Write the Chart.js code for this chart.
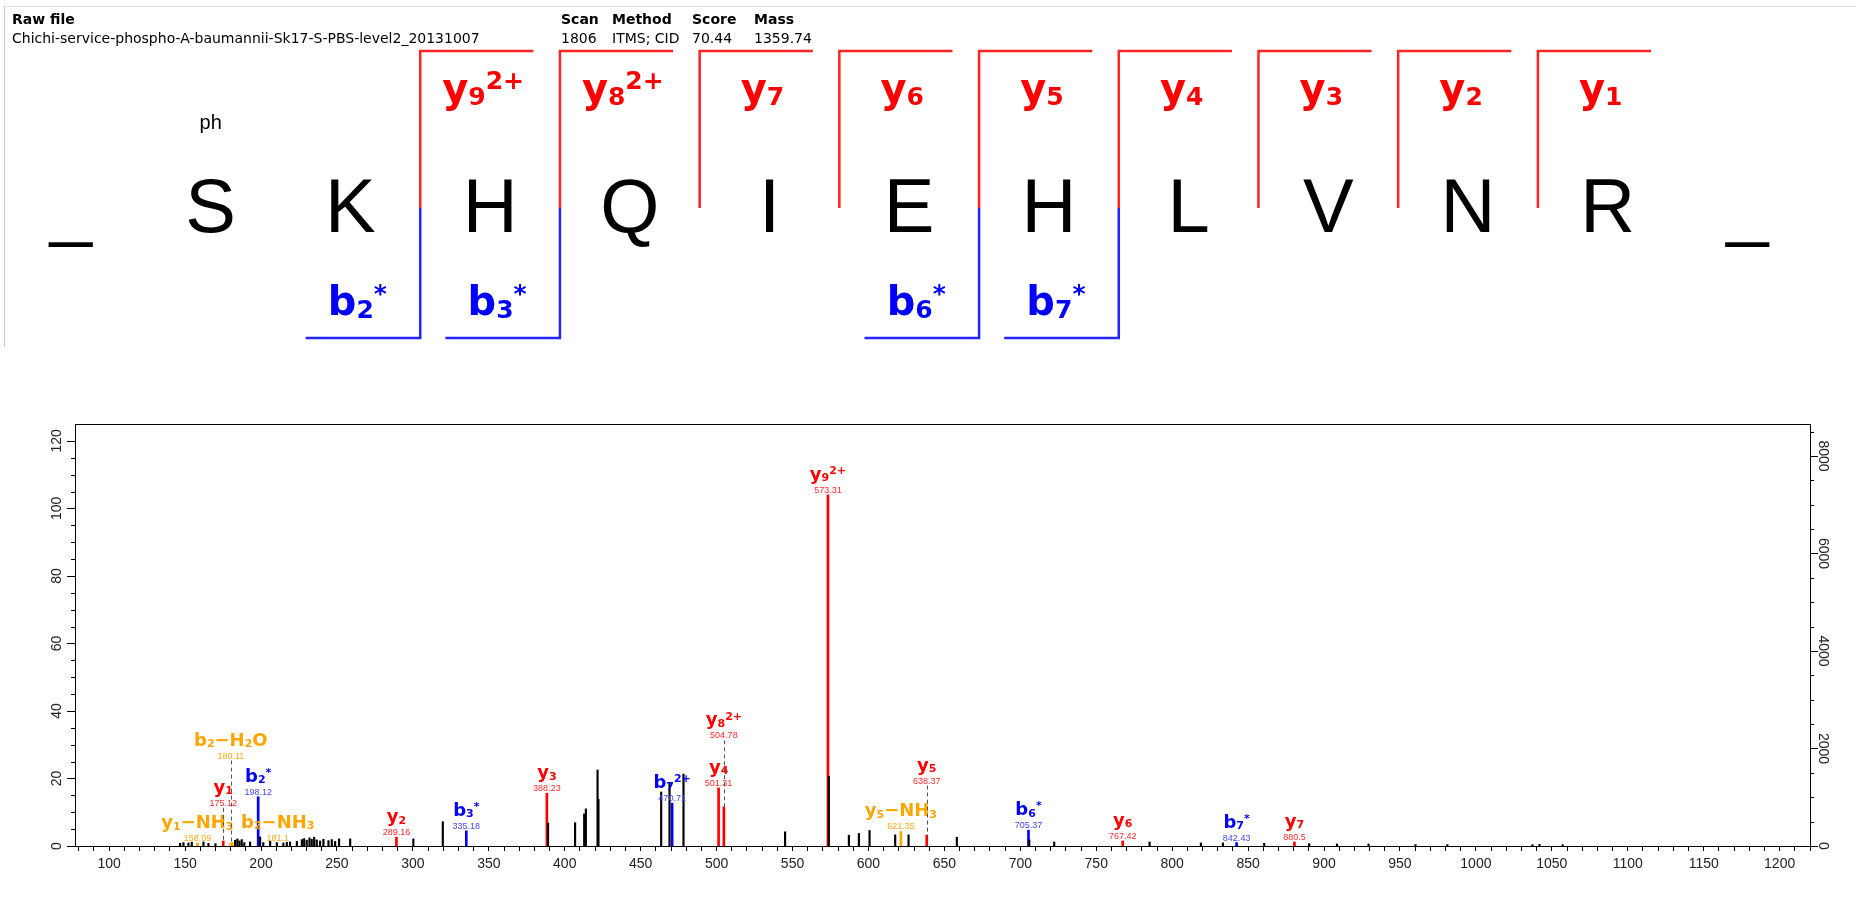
<!DOCTYPE html>
<html>
<head>
<meta charset="utf-8">
<script src="https://cdn.jsdelivr.net/npm/chart.js@4.4.0/dist/chart.umd.min.js"></script>
<style>
body { margin: 0; background: #fff; width: 1856px; height: 897px; overflow: hidden; position: relative; }
#frame { position: absolute; left: 4px; top: 6px; width: 1852px; height: 340px; border-left: 1px solid #c8c8c8; border-top: 1px solid #e2e2e2; }
.hd { position: absolute; font-family: "DejaVu Sans", sans-serif; font-size: 14px; line-height: 16px; color: #000; white-space: nowrap; }
.bold { font-weight: bold; }
#peptide { position: absolute; left: 0; top: 0; }
#spectrum { position: absolute; left: 0; top: 345px; }
</style>
</head>
<body>
<div id="frame"></div>
<canvas id="peptide" width="1856" height="345"></canvas>
<canvas id="spectrum" width="1856" height="552"></canvas>
<div class="hd bold" style="left:12px;top:11px">Raw file</div>
<div class="hd" style="left:12px;top:30px">Chichi-service-phospho-A-baumannii-Sk17-S-PBS-level2_20131007</div>
<div class="hd bold" style="left:561px;top:11px">Scan</div>
<div class="hd" style="left:561px;top:30px">1806</div>
<div class="hd bold" style="left:612px;top:11px">Method</div>
<div class="hd" style="left:612px;top:30px">ITMS; CID</div>
<div class="hd bold" style="left:692px;top:11px">Score</div>
<div class="hd" style="left:692px;top:30px">70.44</div>
<div class="hd bold" style="left:754px;top:11px">Mass</div>
<div class="hd" style="left:754px;top:30px">1359.74</div>
<script>
// peptide sequence (index 0 and 12 are the termini)
var residues = ['_', 'S', 'K', 'H', 'Q', 'I', 'E', 'H', 'L', 'V', 'N', 'R', '_']
var modSite = 1
var modText = 'ph'
var yIonNums = [9, 8, 7, 6, 5, 4, 3, 2, 1]
var yIonCharge = [2, 2, 1, 1, 1, 1, 1, 1, 1]
var bIonNums = [2, 3, 6, 7]

// unassigned peaks (m/z, relative intensity)
var peakMz = [146.7, 148.9, 152.2, 154.4, 162.1, 165.4, 170.0, 182.9, 184.4, 185.8, 187.3, 189.0, 192.8,
    199.4, 201.5, 206.0, 210.4, 214.7, 217.0, 219.1, 223.6, 226.9, 228.4, 230.1, 231.9, 233.4, 235.0,
    236.7, 238.9, 241.1, 244.4, 246.6, 248.8, 251.4, 258.7, 300.3, 319.7, 389.0, 406.8, 412.8, 413.9,
    421.6, 422.2, 463.5, 469.0, 478.2, 545.1, 573.9, 587.1, 593.7, 600.7, 617.6, 626.4, 658.2, 705.9,
    722.3, 785.1, 818.9, 833.4, 860.6, 890.2, 908.5, 929.3, 960.2, 981.2, 1037.2, 1041.9, 1057.1]
var peakInt = [0.8, 1.0, 0.9, 1.1, 1.2, 0.8, 0.7, 1.7, 2.1, 1.5, 1.9, 1.0, 1.2,
    2.7, 1.0, 1.4, 1.0, 0.9, 1.1, 1.2, 1.4, 1.9, 2.2, 1.7, 2.4, 2.0, 2.6,
    1.8, 1.5, 2.0, 1.6, 1.9, 1.4, 2.1, 2.1, 2.1, 7.2, 6.8, 6.9, 9.5, 11.0,
    22.5, 13.8, 16.0, 18.7, 21.3, 4.2, 20.7, 3.2, 3.7, 4.6, 3.3, 3.3, 2.6, 1.8,
    1.2, 1.2, 0.9, 0.9, 0.8, 0.7, 0.6, 0.6, 0.4, 0.4, 0.4, 0.5, 0.4]

// assigned peaks; "_" = subscript char, "^" = superscript rest
var ionLabel = ['y_1\u2212NH_3', 'y_1', 'b_2\u2212H_2O', 'b_2\u2212NH_3', 'b_2^*', 'y_2', 'b_3^*', 'y_3', 'b_7^2+',
    'y_4', 'y_8^2+', 'y_9^2+', 'y_5\u2212NH_3', 'y_5', 'b_6^*', 'y_6', 'b_7^*', 'y_7']
var ionMz = [158.09, 175.12, 180.11, 181.1, 198.12, 289.16, 335.18, 388.23, 470.71,
    501.31, 504.78, 573.31, 621.35, 638.37, 705.37, 767.42, 842.43, 880.5]
var ionInt = [0.8, 1.5, 0.8, 1.0, 14.6, 2.6, 4.5, 15.6, 12.7,
    17.2, 11.6, 104, 4.3, 3.2, 4.7, 1.5, 1.0, 1.2]
var ionKind = ['loss', 'y', 'loss', 'loss', 'b', 'y', 'b', 'y', 'b',
    'y', 'y', 'y', 'loss', 'y', 'b', 'y', 'b', 'y']
// labels lifted above their peak (intensity) or moved aside (m/z); null = on the peak
var ionLabelInt = [null, 11.3, 25.3, null, null, null, null, null, null,
    null, 31.3, null, null, 17.9, null, null, null, null]
var ionLabelMz = [null, null, null, 211, null, null, null, null, null,
    null, null, null, null, null, null, null, null, null]

var leftTicks = [0, 20, 40, 60, 80, 100, 120]
var rightTicks = [0, 2000, 4000, 6000, 8000]

var colours = { y: '#ff0000', b: '#0000ff', loss: '#ffa500' }
var numColours = { y: '#ff2a2a', b: '#4747ff', loss: '#ffab1a' }

// draws ion names like y9 2+ with sub/superscripts, centred on cx
function drawIon(ctx, markup, cx, baseY, size, colour) {
    var runs = []
    var i = 0
    while (i < markup.length) {
        var c = markup[i]
        if (c === '_') { runs.push({ t: markup[i + 1], k: 'sub' }); i += 2 }
        else if (c === '^') { runs.push({ t: markup.slice(i + 1), k: 'sup' }); break }
        else { runs.push({ t: c, k: 'n' }); i++ }
    }
    var small = Math.round(size * 0.62)
    var fontFor = function (k) { return 'bold ' + (k === 'n' ? size : small) + 'px "DejaVu Sans"' }
    var w = 0
    runs.forEach(function (r) { ctx.font = fontFor(r.k); r.w = ctx.measureText(r.t).width; w += r.w })
    var x = cx - w / 2
    ctx.fillStyle = colour
    ctx.textAlign = 'left'
    ctx.textBaseline = 'alphabetic'
    runs.forEach(function (r) {
        ctx.font = fontFor(r.k)
        var dy = r.k === 'sub' ? size * 0.08 : (r.k === 'sup' ? -size * 0.32 : 0)
        ctx.fillText(r.t, x, baseY + dy)
        x += r.w
    })
}

// ---------- sequence panel ----------
// row levels of the panel (y in canvas px, reversed axis)
var ROW = { top: 51, mid: 208, bottom: 338, letter: 232, mod: 129, yLabel: 102, bLabel: 315 }

var redPts = []
yIonNums.forEach(function (n) {
    var v = 11.5 - n
    redPts.push({ x: v, y: ROW.mid }, { x: v, y: ROW.top }, { x: v + 0.81, y: ROW.top }, { x: v, y: null })
})
var bluePts = []
bIonNums.forEach(function (n) {
    var v = n + 0.5
    bluePts.push({ x: v, y: ROW.mid }, { x: v, y: ROW.bottom }, { x: v - 0.82, y: ROW.bottom }, { x: v, y: null })
})

var seqPlugin = {
    id: 'seq',
    afterDatasetsDraw: function (chart) {
        var ctx = chart.ctx, xs = chart.scales.x, ys = chart.scales.y
        ctx.save()
        ctx.fillStyle = '#000'
        ctx.textAlign = 'center'
        ctx.textBaseline = 'alphabetic'
        ctx.font = '76px "Liberation Sans"'
        residues.forEach(function (r, i) {
            ctx.fillText(r, xs.getPixelForValue(i), ys.getPixelForValue(ROW.letter))
        })
        ctx.font = '20px "Liberation Sans"'
        ctx.fillText(modText, xs.getPixelForValue(modSite), ys.getPixelForValue(ROW.mod))
        yIonNums.forEach(function (n, i) {
            var txt = 'y_' + n + (yIonCharge[i] > 1 ? '^' + yIonCharge[i] + '+' : '')
            drawIon(ctx, txt, xs.getPixelForValue(11.5 - n + 0.45), ys.getPixelForValue(ROW.yLabel), 40, '#ff0000')
        })
        bIonNums.forEach(function (n) {
            drawIon(ctx, 'b_' + n + '^*', xs.getPixelForValue(n + 0.5 - 0.45), ys.getPixelForValue(ROW.bLabel), 40, '#0000ff')
        })
        ctx.restore()
    }
}

new Chart(document.getElementById('peptide'), {
    type: 'line',
    data: {
        datasets: [
            { data: redPts, borderColor: '#ff2424', borderWidth: 2.5, pointRadius: 0, spanGaps: false, tension: 0 },
            { data: bluePts, borderColor: '#2424ff', borderWidth: 2.5, pointRadius: 0, spanGaps: false, tension: 0 }
        ]
    },
    options: {
        responsive: false,
        animation: false,
        layout: { padding: 0 },
        plugins: { legend: { display: false }, tooltip: { enabled: false } },
        scales: {
            x: { type: 'linear', display: false, min: -0.508, max: 12.777 },
            y: { type: 'linear', display: false, reverse: true, min: 0, max: 345 }
        }
    },
    plugins: [seqPlugin]
})

// ---------- spectrum ----------
function pts(xs, ys) { return xs.map(function (x, i) { return { x: x, y: ys[i] } }) }

var kindSets = ['y', 'b', 'loss'].map(function (k) {
    var d = []
    ionMz.forEach(function (m, i) { if (ionKind[i] === k) d.push({ x: m, y: ionInt[i] }) })
    return { label: k, data: d, backgroundColor: colours[k], barThickness: 2, grouped: false }
})

var axesPlugin = {
    id: 'axes',
    afterDraw: function (chart) {
        var ctx = chart.ctx, ca = chart.chartArea
        var yl = chart.scales.y, yr = chart.scales.y2
        ctx.save()
        ctx.strokeStyle = '#000'
        ctx.lineWidth = 1
        ctx.strokeRect(Math.round(ca.left) + 0.5, Math.round(ca.top) + 0.5, Math.round(ca.right - ca.left), Math.round(ca.bottom - ca.top))
        ctx.beginPath()
        for (var v = 0; v <= 120; v += 5) {
            var py = Math.round(yl.getPixelForValue(v)) + 0.5
            ctx.moveTo(ca.left, py)
            ctx.lineTo(ca.left - (v % 20 === 0 ? 8 : 4), py)
        }
        for (var w = 0; w <= 8500; w += 500) {
            var qy = Math.round(yr.getPixelForValue(w)) + 0.5
            ctx.moveTo(ca.right, qy)
            ctx.lineTo(ca.right + (w % 2000 === 0 ? 8 : 4), qy)
        }
        ctx.stroke()
        ctx.fillStyle = '#222'
        ctx.font = '14px "Liberation Sans"'
        ctx.textAlign = 'center'
        ctx.textBaseline = 'middle'
        leftTicks.forEach(function (t) {
            ctx.save()
            ctx.translate(ca.left - 18, yl.getPixelForValue(t))
            ctx.rotate(-Math.PI / 2)
            ctx.fillText(String(t), 0, 0)
            ctx.restore()
        })
        rightTicks.forEach(function (t) {
            ctx.save()
            ctx.translate(ca.right + 13, yr.getPixelForValue(t))
            ctx.rotate(Math.PI / 2)
            ctx.fillText(String(t), 0, 0)
            ctx.restore()
        })
        ctx.restore()
    },
    afterDatasetsDraw: function (chart) {
        var ctx = chart.ctx, xs = chart.scales.x, ys = chart.scales.y
        ctx.save()
        ionMz.forEach(function (m, i) {
            var px = xs.getPixelForValue(m)
            var top = ys.getPixelForValue(ionInt[i])
            var lx = xs.getPixelForValue(ionLabelMz[i] != null ? ionLabelMz[i] : m)
            var ly = ys.getPixelForValue(ionLabelInt[i] != null ? ionLabelInt[i] : ionInt[i])
            if (ionLabelInt[i] != null) {
                ctx.strokeStyle = '#555'
                ctx.lineWidth = 1
                ctx.setLineDash([4, 3])
                ctx.beginPath()
                ctx.moveTo(Math.round(px) + 0.5, ly)
                ctx.lineTo(Math.round(px) + 0.5, top)
                ctx.stroke()
                ctx.setLineDash([])
            }
            ctx.fillStyle = numColours[ionKind[i]]
            ctx.font = '9px "Liberation Sans"'
            ctx.textAlign = 'center'
            ctx.textBaseline = 'alphabetic'
            ctx.fillText(String(m), lx, ly - 2)
            drawIon(ctx, ionLabel[i], lx, ly - 15, 18, colours[ionKind[i]])
        })
        ctx.restore()
    }
}

new Chart(document.getElementById('spectrum'), {
    type: 'bar',
    data: {
        datasets: [{ label: 'peaks', data: pts(peakMz, peakInt), backgroundColor: '#000', barThickness: 1.5, grouped: false }].concat(kindSets)
    },
    options: {
        responsive: false,
        animation: false,
        layout: { padding: { left: 75, right: 46, top: 79, bottom: 0 } },
        plugins: { legend: { display: false }, tooltip: { enabled: false } },
        scales: {
            x: {
                type: 'linear', min: 77.5, max: 1220, offset: false,
                grid: { offset: false, drawOnChartArea: false, tickLength: 5, color: '#000' },
                border: { color: '#000' },
                ticks: {
                    stepSize: 10, autoSkip: false, maxRotation: 0, minRotation: 0, includeBounds: false,
                    padding: 5, color: '#222', font: { family: '"Liberation Sans"', size: 14 },
                    callback: function (v) { return v % 50 === 0 ? v : '' }
                },
                afterFit: function (s) { s.height = 51 }
            },
            y: { type: 'linear', display: false, min: 0, max: 125 },
            y2: { type: 'linear', display: false, position: 'right', min: 0, max: 8656 }
        }
    },
    plugins: [axesPlugin]
})
</script>
</body>
</html>
